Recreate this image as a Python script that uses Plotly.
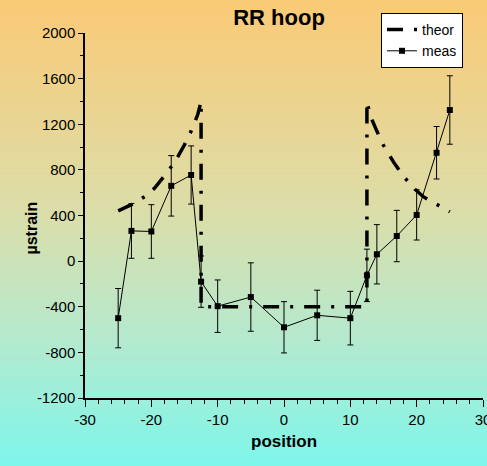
import plotly.graph_objects as go

# Measured hoop strain along the specimen (with error bars)
meas_pos = [-25, -23, -20, -17, -14, -12.5, -10, -5, 0, 5, 10, 12.5, 14, 17, 20, 23, 25]
meas_val = [-500, 265, 260, 660, 755, -180, -395, -315, -580, -475, -500, -125, 60, 220, 405, 950, 1325]
meas_err = [260, 240, 235, 265, 255, 225, 230, 300, 225, 220, 235, 230, 260, 225, 220, 230, 300]

# Theoretical hoop strain
theor_pos = [-25, -23, -21, -19.5, -18, -16.5, -15, -14, -13, -12.5, -12.5,
             12.5, 12.5, 13, 14, 15, 16.5, 18, 19.5, 21, 23, 25]
theor_val = [440, 495, 565, 640, 750, 865, 1020, 1140, 1285, 1400, -400,
             -400, 1400, 1275, 1140, 1015, 870, 745, 644, 565, 498, 433]

x_ticks = [-30, -20, -10, 0, 10, 20, 30]
y_ticks = [-1200, -800, -400, 0, 400, 800, 1200, 1600, 2000]

W, H = 487, 466
ML, MR, MT, MB = 85, 4, 33, 68
PW, PH = W - ML - MR, H - MT - MB

fig = go.Figure()

fig.add_trace(go.Scatter(
    x=theor_pos, y=theor_val, name="theor", mode="lines",
    line=dict(color="black", width=3.5, dash="16px,11px,3px,11px"),
))
fig.add_trace(go.Scatter(
    x=meas_pos, y=meas_val, name="meas", mode="lines+markers",
    line=dict(color="black", width=1),
    marker=dict(symbol="square", size=6, color="black"),
    error_y=dict(type="data", array=meas_err, color="black", thickness=1, width=3),
))

# Vertical background gradient (orange at top to aqua at bottom)
stops = [(0.0, (250, 202, 118)), (0.45, (220, 221, 168)),
         (0.72, (182, 233, 205)), (1.0, (126, 246, 234))]

def grad_color(t):
    for (t0, c0), (t1, c1) in zip(stops[:-1], stops[1:]):
        if t <= t1:
            f = (t - t0) / (t1 - t0)
            return "rgb(%d,%d,%d)" % tuple(round(a + (b - a) * f) for a, b in zip(c0, c1))
    return "rgb(%d,%d,%d)" % stops[-1][1]

n = 120
y_top = (PH + MT) / PH
y_bot = -MB / PH
x_left = -ML / PW
x_right = (PW + MR) / PW
shapes = []
for i in range(n):
    t = (i + 0.5) / n
    y0 = y_top - (y_top - y_bot) * i / n
    y1 = y_top - (y_top - y_bot) * (i + 1) / n
    shapes.append(dict(type="rect", xref="paper", yref="paper",
                       x0=x_left, x1=x_right, y0=y1, y1=y0 + 0.002,
                       fillcolor=grad_color(t), line=dict(width=0), layer="below"))

font = "Liberation Sans, Arial, sans-serif"

fig.update_layout(
    width=W, height=H,
    margin=dict(l=ML, r=MR, t=MT, b=MB, pad=0, autoexpand=False),
    paper_bgcolor="white",
    plot_bgcolor="rgba(0,0,0,0)",
    shapes=shapes,
    font=dict(family=font, color="black"),
    title=dict(text="<b>RR hoop</b>", font=dict(size=22, family=font),
               x=(279 - ML) / PW, xref="paper", xanchor="center",
               y=1 - 17 / H, yref="container", yanchor="middle"),
    showlegend=True,
    legend=dict(x=(381 - ML) / PW, y=(PH + MT - 13) / PH, xanchor="left", yanchor="top",
                bgcolor="white", bordercolor="black", borderwidth=1,
                font=dict(size=14, family=font), tracegroupgap=0),
    annotations=[
        dict(text="<b>µstrain</b>", x=(20 - ML) / PW, y=(PH + MT - 228) / PH,
             xref="paper", yref="paper", textangle=-90, showarrow=False,
             font=dict(size=16, family=font)),
        dict(text="<b>position</b>", x=(284 - ML) / PW, y=(PH + MT - 453) / PH,
             xref="paper", yref="paper", showarrow=False,
             font=dict(size=17, family=font)),
    ],
)

fig.update_xaxes(
    range=[-30, 30], tickvals=x_ticks, ticktext=[str(v) for v in x_ticks],
    showline=True, linecolor="black", linewidth=1.5, mirror=False,
    ticks="outside", ticklen=7, tickwidth=1.2, tickcolor="black",
    minor=dict(dtick=2, ticks="outside", ticklen=4, tickcolor="black", showgrid=False),
    showgrid=False, zeroline=False, tickfont=dict(size=15, family=font),
    ticklabeloverflow="allow", automargin=False,
)
fig.update_yaxes(
    range=[-1200, 2000], tickvals=y_ticks, ticktext=[str(v) for v in y_ticks],
    showline=True, linecolor="black", linewidth=1.5, mirror=False,
    ticks="outside", ticklen=5, tickwidth=1.2, tickcolor="black",
    minor=dict(dtick=200, ticks="outside", ticklen=3, tickcolor="black", showgrid=False),
    showgrid=False, zeroline=False, tickfont=dict(size=15, family=font),
    ticklabeloverflow="allow", automargin=False,
)

fig.write_html("out.html")
